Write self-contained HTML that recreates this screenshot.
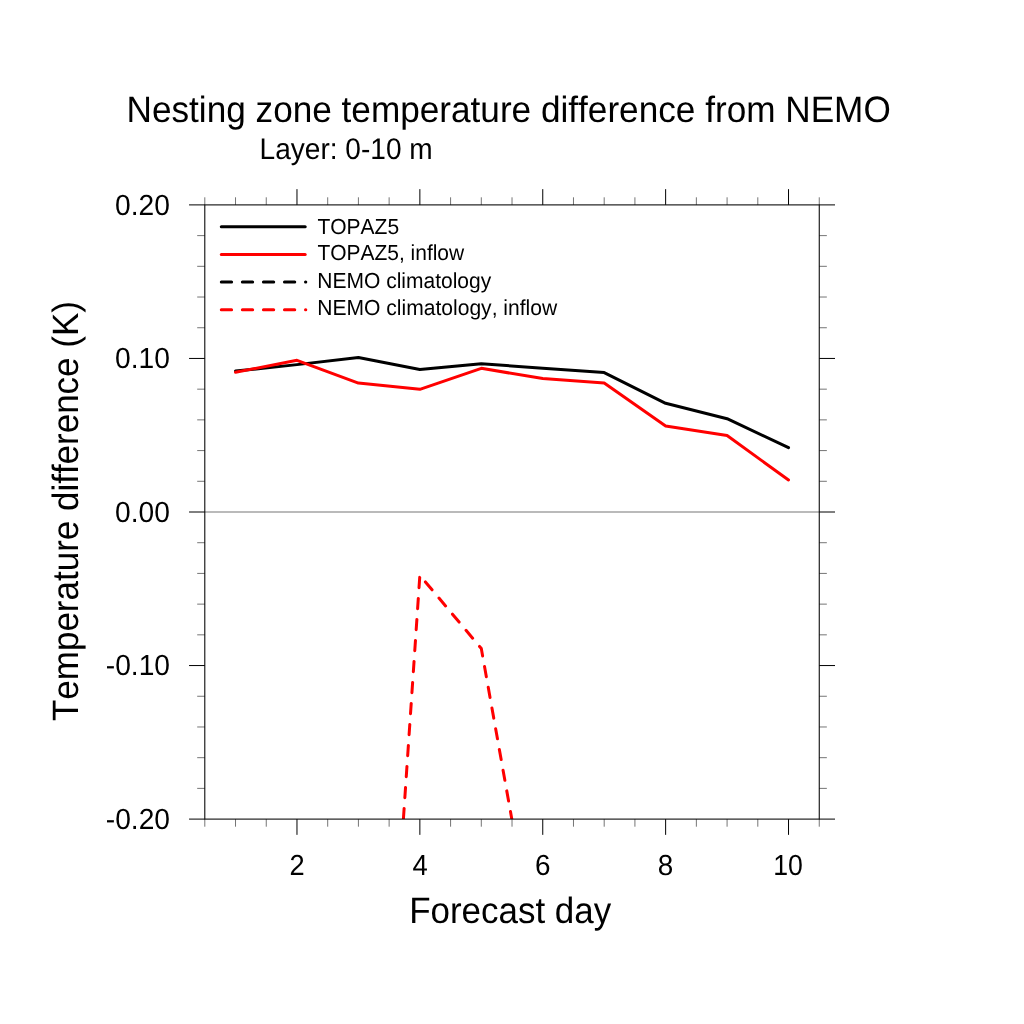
<!DOCTYPE html>
<html><head><meta charset="utf-8"><title>Nesting zone temperature difference from NEMO</title>
<style>
html,body{margin:0;padding:0;background:#fff;}
body{width:1024px;height:1024px;overflow:hidden;}
svg{display:block;}
text{font-family:"Liberation Sans",Arial,Helvetica,sans-serif;fill:#000;font-kerning:none;text-rendering:geometricPrecision;}
</style></head><body>
<svg width="1024" height="1024" viewBox="0 0 1024 1024">
<rect width="1024" height="1024" fill="#fff"/>
<defs><clipPath id="pc"><rect x="204.8" y="204.9" width="614.45" height="614.20"/></clipPath></defs>
<line x1="204.8" y1="512.00" x2="819.25" y2="512.00" stroke="#777" stroke-width="1.05"/>
<g clip-path="url(#pc)" fill="none" stroke-width="3" stroke-linejoin="round" stroke-linecap="round">
<polyline points="235.52,371.08 296.97,364.62 358.41,357.41 419.86,369.59 481.30,363.71 542.75,368.16 604.19,372.62 665.64,403.33 727.08,418.68 788.53,447.70" stroke="#000"/>
<polyline points="235.52,372.31 296.97,360.33 358.41,383.06 419.86,389.35 481.30,368.32 542.75,378.60 604.19,383.06 665.64,426.05 727.08,435.57 788.53,479.95" stroke="#f00"/>
<polyline points="358.41,1485.51 419.86,575.29 481.30,648.51 542.75,992.15" stroke="#f00" stroke-dasharray="10.3 10.75" stroke-dashoffset="5.25"/>
</g>
<g stroke="#000" stroke-width="1.05" fill="none">
<rect x="204.8" y="204.9" width="614.45" height="614.20"/>
<line x1="204.80" y1="819.10" x2="204.80" y2="826.70" stroke-width="0.55"/><line x1="204.80" y1="204.90" x2="204.80" y2="197.30" stroke-width="0.55"/><line x1="235.52" y1="819.10" x2="235.52" y2="826.70" stroke-width="0.55"/><line x1="235.52" y1="204.90" x2="235.52" y2="197.30" stroke-width="0.55"/><line x1="266.25" y1="819.10" x2="266.25" y2="826.70" stroke-width="0.55"/><line x1="266.25" y1="204.90" x2="266.25" y2="197.30" stroke-width="0.55"/><line x1="296.97" y1="819.10" x2="296.97" y2="834.85" stroke-width="1.0"/><line x1="296.97" y1="204.90" x2="296.97" y2="189.15" stroke-width="1.0"/><line x1="327.69" y1="819.10" x2="327.69" y2="826.70" stroke-width="0.55"/><line x1="327.69" y1="204.90" x2="327.69" y2="197.30" stroke-width="0.55"/><line x1="358.41" y1="819.10" x2="358.41" y2="826.70" stroke-width="0.55"/><line x1="358.41" y1="204.90" x2="358.41" y2="197.30" stroke-width="0.55"/><line x1="389.13" y1="819.10" x2="389.13" y2="826.70" stroke-width="0.55"/><line x1="389.13" y1="204.90" x2="389.13" y2="197.30" stroke-width="0.55"/><line x1="419.86" y1="819.10" x2="419.86" y2="834.85" stroke-width="1.0"/><line x1="419.86" y1="204.90" x2="419.86" y2="189.15" stroke-width="1.0"/><line x1="450.58" y1="819.10" x2="450.58" y2="826.70" stroke-width="0.55"/><line x1="450.58" y1="204.90" x2="450.58" y2="197.30" stroke-width="0.55"/><line x1="481.30" y1="819.10" x2="481.30" y2="826.70" stroke-width="0.55"/><line x1="481.30" y1="204.90" x2="481.30" y2="197.30" stroke-width="0.55"/><line x1="512.03" y1="819.10" x2="512.03" y2="826.70" stroke-width="0.55"/><line x1="512.03" y1="204.90" x2="512.03" y2="197.30" stroke-width="0.55"/><line x1="542.75" y1="819.10" x2="542.75" y2="834.85" stroke-width="1.0"/><line x1="542.75" y1="204.90" x2="542.75" y2="189.15" stroke-width="1.0"/><line x1="573.47" y1="819.10" x2="573.47" y2="826.70" stroke-width="0.55"/><line x1="573.47" y1="204.90" x2="573.47" y2="197.30" stroke-width="0.55"/><line x1="604.19" y1="819.10" x2="604.19" y2="826.70" stroke-width="0.55"/><line x1="604.19" y1="204.90" x2="604.19" y2="197.30" stroke-width="0.55"/><line x1="634.92" y1="819.10" x2="634.92" y2="826.70" stroke-width="0.55"/><line x1="634.92" y1="204.90" x2="634.92" y2="197.30" stroke-width="0.55"/><line x1="665.64" y1="819.10" x2="665.64" y2="834.85" stroke-width="1.0"/><line x1="665.64" y1="204.90" x2="665.64" y2="189.15" stroke-width="1.0"/><line x1="696.36" y1="819.10" x2="696.36" y2="826.70" stroke-width="0.55"/><line x1="696.36" y1="204.90" x2="696.36" y2="197.30" stroke-width="0.55"/><line x1="727.08" y1="819.10" x2="727.08" y2="826.70" stroke-width="0.55"/><line x1="727.08" y1="204.90" x2="727.08" y2="197.30" stroke-width="0.55"/><line x1="757.81" y1="819.10" x2="757.81" y2="826.70" stroke-width="0.55"/><line x1="757.81" y1="204.90" x2="757.81" y2="197.30" stroke-width="0.55"/><line x1="788.53" y1="819.10" x2="788.53" y2="834.85" stroke-width="1.0"/><line x1="788.53" y1="204.90" x2="788.53" y2="189.15" stroke-width="1.0"/><line x1="819.25" y1="819.10" x2="819.25" y2="826.70" stroke-width="0.55"/><line x1="819.25" y1="204.90" x2="819.25" y2="197.30" stroke-width="0.55"/><line x1="204.80" y1="819.10" x2="189.05" y2="819.10" stroke-width="1.0"/><line x1="819.25" y1="819.10" x2="835.00" y2="819.10" stroke-width="1.0"/><line x1="204.80" y1="788.39" x2="197.20" y2="788.39" stroke-width="0.55"/><line x1="819.25" y1="788.39" x2="826.85" y2="788.39" stroke-width="0.55"/><line x1="204.80" y1="757.68" x2="197.20" y2="757.68" stroke-width="0.55"/><line x1="819.25" y1="757.68" x2="826.85" y2="757.68" stroke-width="0.55"/><line x1="204.80" y1="726.97" x2="197.20" y2="726.97" stroke-width="0.55"/><line x1="819.25" y1="726.97" x2="826.85" y2="726.97" stroke-width="0.55"/><line x1="204.80" y1="696.26" x2="197.20" y2="696.26" stroke-width="0.55"/><line x1="819.25" y1="696.26" x2="826.85" y2="696.26" stroke-width="0.55"/><line x1="204.80" y1="665.55" x2="189.05" y2="665.55" stroke-width="1.0"/><line x1="819.25" y1="665.55" x2="835.00" y2="665.55" stroke-width="1.0"/><line x1="204.80" y1="634.84" x2="197.20" y2="634.84" stroke-width="0.55"/><line x1="819.25" y1="634.84" x2="826.85" y2="634.84" stroke-width="0.55"/><line x1="204.80" y1="604.13" x2="197.20" y2="604.13" stroke-width="0.55"/><line x1="819.25" y1="604.13" x2="826.85" y2="604.13" stroke-width="0.55"/><line x1="204.80" y1="573.42" x2="197.20" y2="573.42" stroke-width="0.55"/><line x1="819.25" y1="573.42" x2="826.85" y2="573.42" stroke-width="0.55"/><line x1="204.80" y1="542.71" x2="197.20" y2="542.71" stroke-width="0.55"/><line x1="819.25" y1="542.71" x2="826.85" y2="542.71" stroke-width="0.55"/><line x1="204.80" y1="512.00" x2="189.05" y2="512.00" stroke-width="1.0"/><line x1="819.25" y1="512.00" x2="835.00" y2="512.00" stroke-width="1.0"/><line x1="204.80" y1="481.29" x2="197.20" y2="481.29" stroke-width="0.55"/><line x1="819.25" y1="481.29" x2="826.85" y2="481.29" stroke-width="0.55"/><line x1="204.80" y1="450.58" x2="197.20" y2="450.58" stroke-width="0.55"/><line x1="819.25" y1="450.58" x2="826.85" y2="450.58" stroke-width="0.55"/><line x1="204.80" y1="419.87" x2="197.20" y2="419.87" stroke-width="0.55"/><line x1="819.25" y1="419.87" x2="826.85" y2="419.87" stroke-width="0.55"/><line x1="204.80" y1="389.16" x2="197.20" y2="389.16" stroke-width="0.55"/><line x1="819.25" y1="389.16" x2="826.85" y2="389.16" stroke-width="0.55"/><line x1="204.80" y1="358.45" x2="189.05" y2="358.45" stroke-width="1.0"/><line x1="819.25" y1="358.45" x2="835.00" y2="358.45" stroke-width="1.0"/><line x1="204.80" y1="327.74" x2="197.20" y2="327.74" stroke-width="0.55"/><line x1="819.25" y1="327.74" x2="826.85" y2="327.74" stroke-width="0.55"/><line x1="204.80" y1="297.03" x2="197.20" y2="297.03" stroke-width="0.55"/><line x1="819.25" y1="297.03" x2="826.85" y2="297.03" stroke-width="0.55"/><line x1="204.80" y1="266.32" x2="197.20" y2="266.32" stroke-width="0.55"/><line x1="819.25" y1="266.32" x2="826.85" y2="266.32" stroke-width="0.55"/><line x1="204.80" y1="235.61" x2="197.20" y2="235.61" stroke-width="0.55"/><line x1="819.25" y1="235.61" x2="826.85" y2="235.61" stroke-width="0.55"/><line x1="204.80" y1="204.90" x2="189.05" y2="204.90" stroke-width="1.0"/><line x1="819.25" y1="204.90" x2="835.00" y2="204.90" stroke-width="1.0"/>
</g>
<g fill="none" stroke-width="3" stroke-linecap="round">
<line x1="221.3" y1="226.8" x2="305.2" y2="226.8" stroke="#000"/>
<line x1="221.3" y1="254.5" x2="305.2" y2="254.5" stroke="#f00"/>
<line x1="221.3" y1="282.1" x2="305.8" y2="282.1" stroke="#000" stroke-dasharray="10.3 10.75"/>
<line x1="221.3" y1="309.7" x2="305.8" y2="309.7" stroke="#f00" stroke-dasharray="10.3 10.75"/>
</g>
<text transform="translate(126.54,122.10) scale(0.9569,1)" font-size="36.75">Nesting zone temperature difference from NEMO</text>
<text transform="translate(259.53,158.80) scale(0.9423,1)" font-size="29.79">Layer: 0-10 m</text>
<text transform="translate(317.39,234.10) scale(0.9663,1)" font-size="21.76">TOPAZ5</text>
<text transform="translate(317.40,260.30) scale(0.9636,1)" font-size="21.76">TOPAZ5, inflow</text>
<text transform="translate(317.31,287.70) scale(0.9654,1)" font-size="21.76">NEMO climatology</text>
<text transform="translate(317.26,315.10) scale(0.9683,1)" font-size="21.76">NEMO climatology, inflow</text>
<text transform="translate(115.04,214.50) scale(0.9719,1)" font-size="29.01">0.20</text>
<text transform="translate(115.03,368.13) scale(0.9719,1)" font-size="29.01">0.10</text>
<text transform="translate(115.03,521.75) scale(0.9719,1)" font-size="29.01">0.00</text>
<text transform="translate(105.74,675.38) scale(0.9719,1)" font-size="29.01">-0.10</text>
<text transform="translate(105.74,829.00) scale(0.9719,1)" font-size="29.01">-0.20</text>
<text transform="translate(289.46,874.70) scale(0.9397,1)" font-size="29.01">2</text>
<text transform="translate(412.41,874.70) scale(0.9453,1)" font-size="29.01">4</text>
<text transform="translate(534.94,874.70) scale(0.9605,1)" font-size="29.01">6</text>
<text transform="translate(657.84,874.70) scale(0.9605,1)" font-size="29.01">8</text>
<text transform="translate(773.26,874.70) scale(0.9185,1)" font-size="29.01">10</text>
<text transform="translate(409.14,923.00) scale(0.9514,1)" font-size="36.75">Forecast day</text>
<text transform="translate(78.00,721.00) rotate(-90) scale(0.9546,1)" font-size="36.65">Temperature difference (K)</text>
</svg>
</body></html>
